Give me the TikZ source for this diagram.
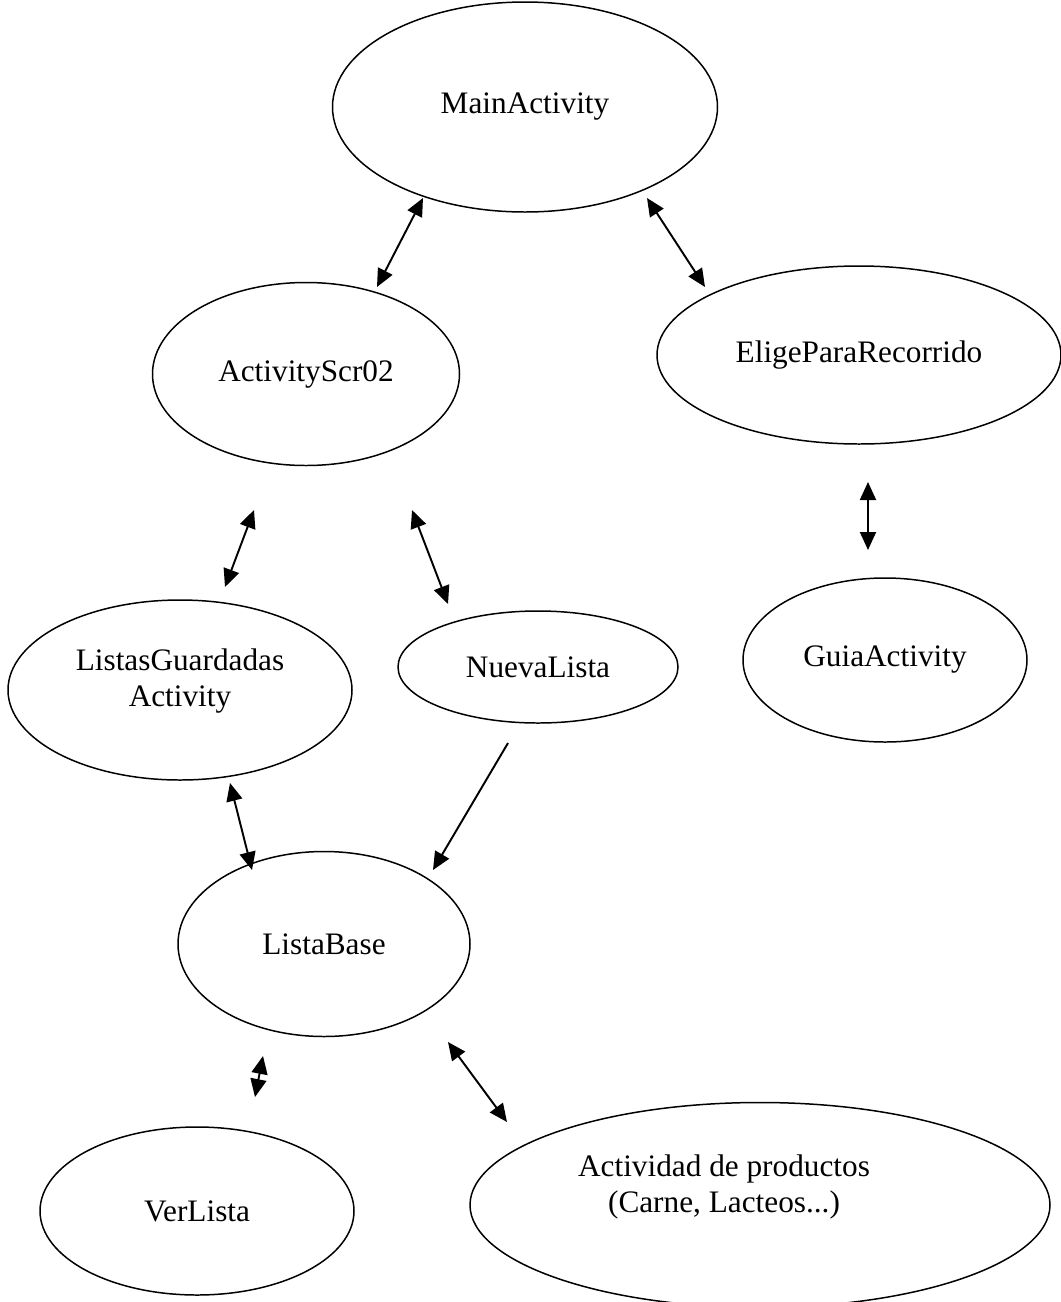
\documentclass[tikz,border=0pt]{standalone}
\usepackage{fontspec}
\setmainfont{Liberation Serif}
\usetikzlibrary{shapes.geometric,arrows.meta}
\begin{document}
\begin{tikzpicture}[x=0.02cm,y=-0.02cm,
  box/.style={draw,ellipse,line width=0.85pt,inner sep=0pt,font=\fontsize{17.8}{20}\selectfont,align=center},
  lbl/.style={inner sep=0pt,font=\fontsize{17.8}{20}\selectfont,align=center},
  link/.style={line width=1.1pt,{Triangle[length=0.36cm,width=0.32cm]}-{Triangle[length=0.36cm,width=0.32cm]}},
  onelink/.style={line width=1.1pt,-{Triangle[length=0.36cm,width=0.32cm]}}]
\useasboundingbox (0,0) rectangle (1061,1302);
\begin{scope}
\clip (0,0) rectangle (1061,1302);
\node[box,minimum width=385*0.02cm,minimum height=210*0.02cm] (main) at (525,107) {MainActivity};
\node[box,minimum width=307*0.02cm,minimum height=183*0.02cm] (scr) at (306,374) {ActivityScr02};
\node[box,minimum width=404*0.02cm,minimum height=178*0.02cm] (elige) at (859,355) {EligeParaRecorrido};
\node[box,minimum width=284*0.02cm,minimum height=164*0.02cm] (guia) at (885,660) {GuiaActivity};
\node[box,minimum width=344*0.02cm,minimum height=180*0.02cm] (listas) at (180,690) {};
\node[lbl] (listast) at (180,681) {ListasGuardadas\\Activity};
\node[box,minimum width=280*0.02cm,minimum height=112*0.02cm] (nueva) at (538,667) {NuevaLista};
\node[box,minimum width=292*0.02cm,minimum height=185*0.02cm] (base) at (324,944) {ListaBase};
\node[box,minimum width=314*0.02cm,minimum height=168*0.02cm] (ver) at (197,1211) {VerLista};
\node[box,minimum width=580*0.02cm,minimum height=205*0.02cm] (act) at (760,1205) {};
\node[lbl] (actt) at (724,1187) {Actividad de productos\\(Carne, Lacteos...)};
\end{scope}
\coordinate (a1s) at (423,198); \coordinate (a1e) at (377,287);
\coordinate (a2s) at (647,198); \coordinate (a2e) at (705,287);
\coordinate (a3s) at (868,482); \coordinate (a3e) at (868,550);
\coordinate (a4s) at (254,510); \coordinate (a4e) at (225,587);
\coordinate (a5s) at (412,510); \coordinate (a5e) at (448,604);
\coordinate (a6s) at (230,783); \coordinate (a6e) at (252,870);
\coordinate (a7s) at (508,743); \coordinate (a7e) at (433,870);
\coordinate (a8s) at (263,1056); \coordinate (a8e) at (255,1097);
\coordinate (a9s) at (448,1042); \coordinate (a9e) at (507,1122);
\draw[link] (a1s) -- (a1e);
\draw[link] (a2s) -- (a2e);
\draw[link] (a3s) -- (a3e);
\draw[link] (a4s) -- (a4e);
\draw[link] (a5s) -- (a5e);
\draw[link] (a6s) -- (a6e);
\draw[onelink] (a7s) -- (a7e);
\draw[link] (a8s) -- (a8e);
\draw[link] (a9s) -- (a9e);
\end{tikzpicture}
\end{document}
